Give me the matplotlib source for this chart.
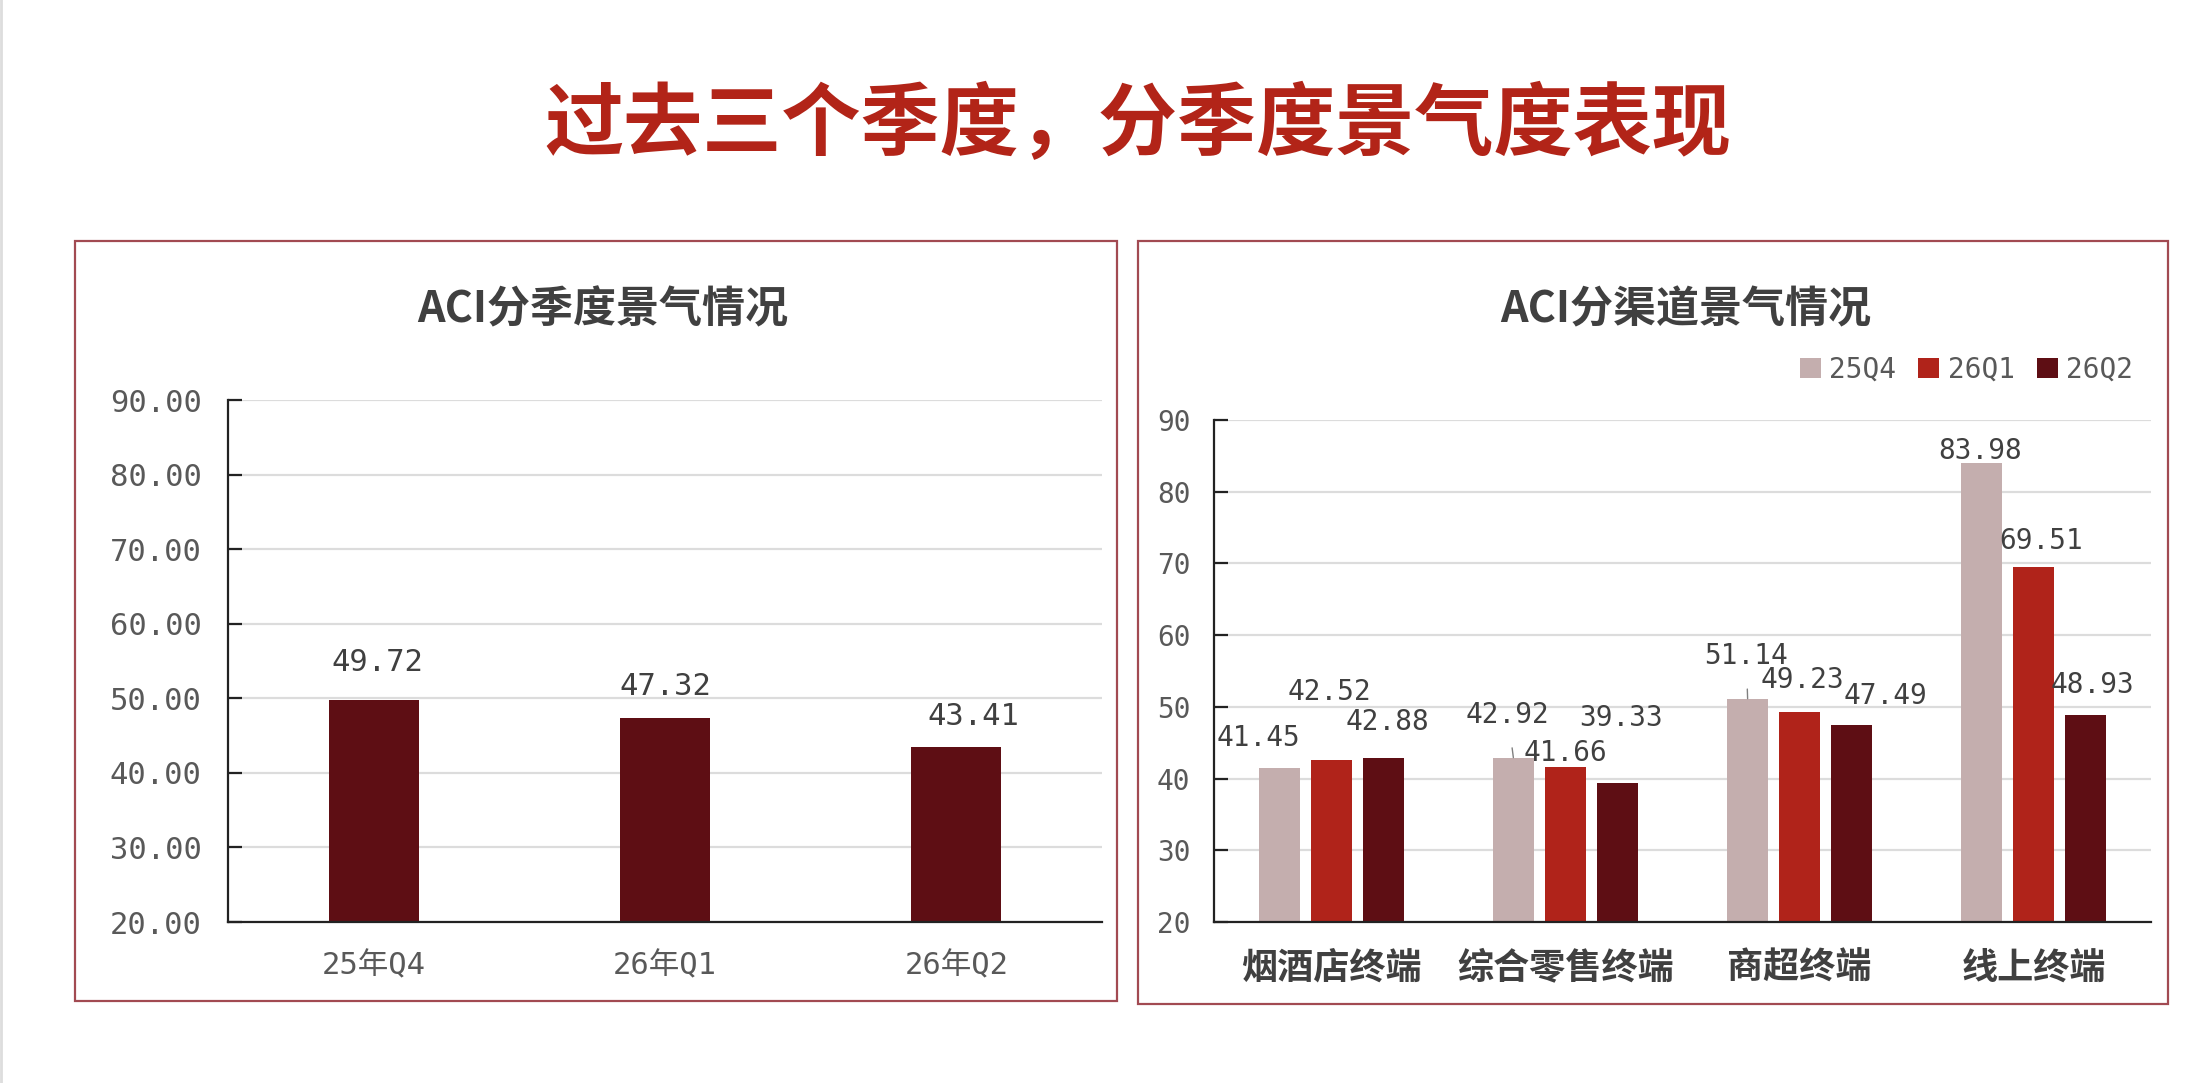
import matplotlib
matplotlib.use('Agg')
import matplotlib.pyplot as plt
from matplotlib.patches import Rectangle, Patch
import numpy as np

plt.rcParams['font.family'] = ['Noto Sans CJK SC', 'DejaVu Sans']

# ---- data ----
main_title = '过去三个季度，分季度景气度表现'

left_title = 'ACI分季度景气情况'
quarters = ['25年Q4', '26年Q1', '26年Q2']
quarter_values = [49.72, 47.32, 43.41]

right_title = 'ACI分渠道景气情况'
channels = ['烟酒店终端', '综合零售终端', '商超终端', '线上终端']
series_names = ['25Q4', '26Q1', '26Q2']
v_25q4 = [41.45, 42.92, 51.14, 83.98]
v_26q1 = [42.52, 41.66, 49.23, 69.51]
v_26q2 = [42.88, 39.33, 47.49, 48.93]

# label offsets (points) copied from the layout of the original
left_offsets = [(3, 27), (0, 23), (12, 22)]
right_offsets = [
    [(-15, 22), (-4, 31), (-1, 31), (-1, 9)],
    [(-1, 49), (0, 10), (2, 23), (5, 19)],
    [(3, 26), (3, 47), (24, 21), (5, 21)],
]
leader = [[False, True, True, False], [False] * 4, [False] * 4]

c_light = '#C4AEAE'
c_red = '#B0231A'
c_dark = '#5E0E14'
border = '#A24A52'
tick_col = '#595959'
num_font = ['DejaVu Sans Mono', 'Noto Sans CJK SC']

W, H = 2208, 1083
fig = plt.figure(figsize=(W / 100, H / 100), dpi=100)
fig.patch.set_facecolor('white')

fig.text(1138 / W, 1 - 126 / H, main_title, ha='center', va='center',
         fontsize=57, fontweight='bold', color='#B22418')

# panel frames
fig.patches.append(Rectangle((75 / W, 1 - 1001 / H), (1117 - 75) / W, (1001 - 241) / H,
                             transform=fig.transFigure, fill=False, edgecolor=border, lw=1.6))
fig.patches.append(Rectangle((1138 / W, 1 - 1004 / H), (2168 - 1138) / W, (1004 - 241) / H,
                             transform=fig.transFigure, fill=False, edgecolor=border, lw=1.6))
fig.add_artist(plt.Line2D([1 / W, 1 / W], [0, 1], transform=fig.transFigure,
                          color='#DDDDDD', lw=2))


def style_axes(ax):
    for s in ['top', 'right']:
        ax.spines[s].set_visible(False)
    ax.spines['left'].set_color('#222222')
    ax.spines['bottom'].set_color('#222222')
    ax.spines['left'].set_linewidth(1.6)
    ax.spines['bottom'].set_linewidth(1.6)
    ax.yaxis.grid(True, color='#DCDCDC', lw=1.6)
    ax.set_axisbelow(True)
    ax.tick_params(axis='x', length=0)
    ax.tick_params(axis='y', direction='in', length=10, width=1.6, color='#222222')


# ---- left chart ----
ax1 = fig.add_axes([228 / W, 1 - 922 / H, (1102 - 228) / W, (922 - 400) / H])
x1 = np.arange(len(quarters))
bars = ax1.bar(x1, quarter_values, width=0.31, color=c_dark, zorder=2)
ax1.set_ylim(20, 90)
ax1.set_xlim(-0.5, 2.5)
ax1.set_yticks(np.arange(20, 91, 10))
ax1.set_yticklabels(['%.2f' % t for t in np.arange(20, 91, 10)],
                    family=num_font, fontsize=22, color=tick_col)
ax1.set_xticks(x1)
ax1.set_xticklabels(quarters, family=num_font, fontsize=22, color=tick_col)
style_axes(ax1)
ax1.tick_params(axis='y', pad=19)
ax1.tick_params(axis='x', pad=21)
for b, v, (dx, dy) in zip(bars, quarter_values, left_offsets):
    ax1.annotate('%.2f' % v, (b.get_x() + b.get_width() / 2, v),
                 xytext=(dx, dy), textcoords='offset points', ha='center', va='center',
                 family=num_font, fontsize=22, color='#404040')
fig.text(603 / W, 1 - 309 / H, left_title, ha='center', va='center',
         fontsize=31, fontweight='bold', color='#404040')

# ---- right chart ----
ax2 = fig.add_axes([1214 / W, 1 - 922 / H, (2151 - 1214) / W, (922 - 420) / H])
x2 = np.arange(len(channels))
step = 0.222
series = [v_25q4, v_26q1, v_26q2]
colors = [c_light, c_red, c_dark]
for i, (vals, col) in enumerate(zip(series, colors)):
    bs = ax2.bar(x2 + (i - 1) * step, vals, width=0.175, color=col, zorder=2)
    for j, (b, v) in enumerate(zip(bs, vals)):
        dx, dy = right_offsets[i][j]
        xc = b.get_x() + b.get_width() / 2
        if leader[i][j]:
            ax2.annotate('%.2f' % v, (xc, v), xytext=(dx, dy), textcoords='offset points',
                         ha='center', va='center', family=num_font, fontsize=20,
                         color='#404040',
                         arrowprops=dict(arrowstyle='-', color='#808080', lw=1,
                                         shrinkA=12, shrinkB=0))
        else:
            ax2.annotate('%.2f' % v, (xc, v), xytext=(dx, dy), textcoords='offset points',
                         ha='center', va='center', family=num_font, fontsize=20,
                         color='#404040')
ax2.set_ylim(20, 90)
ax2.set_xlim(-0.5, 3.5)
ax2.set_yticks(np.arange(20, 91, 10))
ax2.set_yticklabels([str(t) for t in np.arange(20, 91, 10)],
                    family=num_font, fontsize=20, color=tick_col)
ax2.set_xticks(x2)
ax2.set_xticklabels(channels, fontsize=26, fontweight='bold', color='#404040')
style_axes(ax2)
ax2.tick_params(axis='y', pad=17)
ax2.tick_params(axis='x', pad=20)
fig.text(1686 / W, 1 - 309 / H, right_title, ha='center', va='center',
         fontsize=31, fontweight='bold', color='#404040')

handles = [Patch(facecolor=c) for c in colors]
leg = fig.legend(handles, series_names, loc='center right',
                 bbox_to_anchor=(2158 / W, 1 - 370 / H), ncol=3, frameon=False,
                 handlelength=0.75, handleheight=0.75, handletextpad=0.3,
                 columnspacing=0.8, prop={'family': num_font, 'size': 20})
for t in leg.get_texts():
    t.set_color(tick_col)

fig.savefig('out.png', dpi=100, facecolor='white')
